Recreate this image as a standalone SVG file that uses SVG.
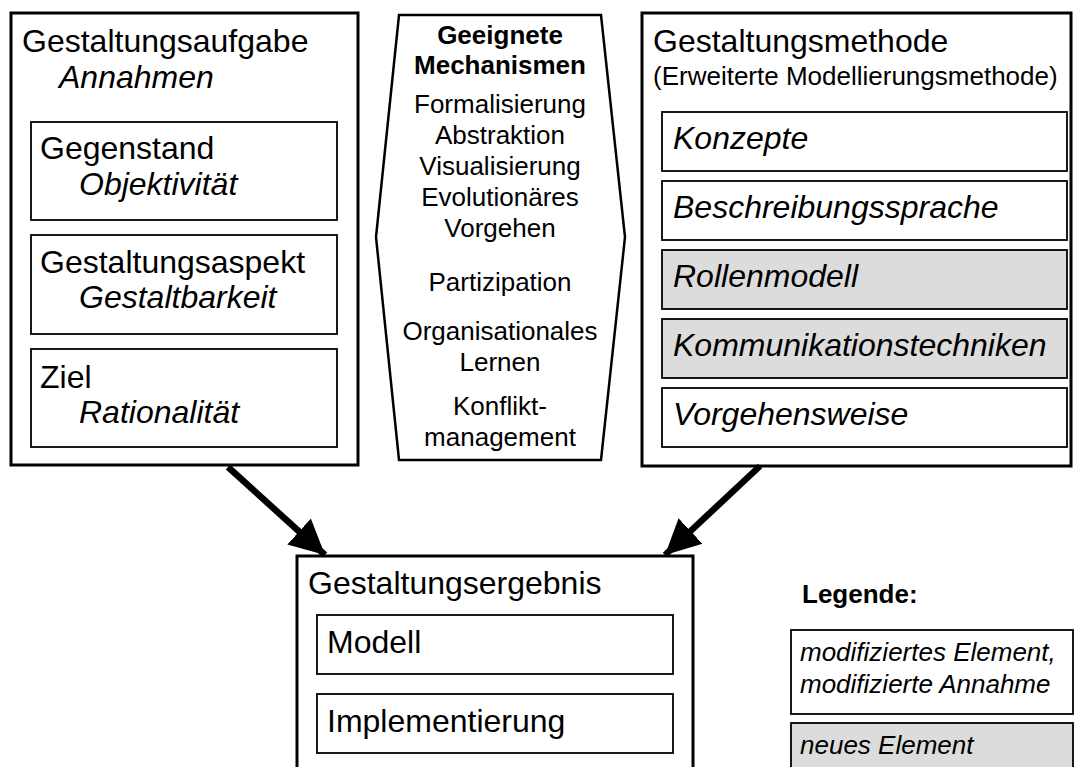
<svg xmlns="http://www.w3.org/2000/svg" width="1075" height="767" viewBox="0 0 1075 767">
  <defs>
    <style>
      .outer { fill: #ffffff; stroke: #000000; stroke-width: 3; }
      .inner { fill: #ffffff; stroke: #000000; stroke-width: 1.8; }
      .new { fill: #dcdcdc; stroke: #000000; stroke-width: 1.8; }
      .hex { fill: #ffffff; stroke: #000000; stroke-width: 2.5; stroke-linejoin: miter; }
      .t32 { font-family: "Liberation Sans", Arial, sans-serif; font-size: 32px; fill: #000000; }
      .i32 { font-family: "Liberation Sans", Arial, sans-serif; font-size: 32px; font-style: italic; fill: #000000; }
      .t26 { font-family: "Liberation Sans", Arial, sans-serif; font-size: 26px; fill: #000000; }
      .i26 { font-family: "Liberation Sans", Arial, sans-serif; font-size: 26px; font-style: italic; fill: #000000; }
      .b26 { font-family: "Liberation Sans", Arial, sans-serif; font-size: 26px; font-weight: bold; fill: #000000; }
      .mid { text-anchor: middle; }
      .conn { stroke: #000000; stroke-width: 6.5; fill: none; }
    </style>
    <marker id="head" viewBox="0 0 10 10" refX="10" refY="5" markerUnits="userSpaceOnUse" markerWidth="35" markerHeight="38" orient="auto">
      <path d="M0,0 L10,5 L0,10 z" fill="#000000"/>
    </marker>
  </defs>

  <!-- Gestaltungsaufgabe -->
  <g id="aufgabe">
    <rect class="outer" x="11" y="13" width="347" height="452"/>
    <text class="t32" x="22" y="52">Gestaltungsaufgabe</text>
    <text class="i32" x="59" y="88">Annahmen</text>
    <g id="gegenstand">
      <rect class="inner" x="31" y="122" width="306" height="98"/>
      <text class="t32" x="40" y="159">Gegenstand</text>
      <text class="i32" x="79" y="195">Objektivität</text>
    </g>
    <g id="aspekt">
      <rect class="inner" x="31" y="235" width="306" height="99"/>
      <text class="t32" x="40" y="273">Gestaltungsaspekt</text>
      <text class="i32" x="79" y="308">Gestaltbarkeit</text>
    </g>
    <g id="ziel">
      <rect class="inner" x="31" y="349" width="306" height="98"/>
      <text class="t32" x="40" y="388">Ziel</text>
      <text class="i32" x="79" y="423">Rationalität</text>
    </g>
  </g>

  <!-- Geeignete Mechanismen -->
  <g id="mechanismen">
    <polygon class="hex" points="399,15 601,15 625,237 601,460 399,460 376,237"/>
    <text class="b26 mid" x="500" y="44">Geeignete</text>
    <text class="b26 mid" x="500" y="74">Mechanismen</text>
    <text class="t26 mid" x="500" y="113">Formalisierung</text>
    <text class="t26 mid" x="500" y="144">Abstraktion</text>
    <text class="t26 mid" x="500" y="175">Visualisierung</text>
    <text class="t26 mid" x="500" y="206">Evolutionäres</text>
    <text class="t26 mid" x="500" y="237">Vorgehen</text>
    <text class="t26 mid" x="500" y="291">Partizipation</text>
    <text class="t26 mid" x="500" y="340">Organisationales</text>
    <text class="t26 mid" x="500" y="371">Lernen</text>
    <text class="t26 mid" x="500" y="415">Konflikt-</text>
    <text class="t26 mid" x="500" y="446">management</text>
  </g>

  <!-- Gestaltungsmethode -->
  <g id="methode">
    <rect class="outer" x="642" y="13" width="429" height="453"/>
    <text class="t32" x="653" y="52">Gestaltungsmethode</text>
    <text class="t26" x="653" y="85">(Erweiterte Modellierungsmethode)</text>
    <g id="konzepte">
      <rect class="inner" x="662" y="112" width="405" height="59"/>
      <text class="i32" x="673" y="149">Konzepte</text>
    </g>
    <g id="sprache">
      <rect class="inner" x="662" y="181" width="405" height="59"/>
      <text class="i32" x="673" y="218">Beschreibungssprache</text>
    </g>
    <g id="rollenmodell">
      <rect class="new" x="662" y="250" width="405" height="59"/>
      <text class="i32" x="673" y="287">Rollenmodell</text>
    </g>
    <g id="kommunikation">
      <rect class="new" x="662" y="319" width="405" height="59"/>
      <text class="i32" x="673" y="356">Kommunikationstechniken</text>
    </g>
    <g id="vorgehensweise">
      <rect class="inner" x="662" y="388" width="405" height="59"/>
      <text class="i32" x="673" y="425">Vorgehensweise</text>
    </g>
  </g>

  <!-- Gestaltungsergebnis -->
  <g id="ergebnis">
    <rect class="outer" x="297" y="556" width="396" height="240"/>
    <text class="t32" x="308" y="594">Gestaltungsergebnis</text>
    <g id="modell">
      <rect class="inner" x="317" y="615" width="356" height="59"/>
      <text class="t32" x="327" y="653">Modell</text>
    </g>
    <g id="implementierung">
      <rect class="inner" x="317" y="694" width="356" height="59"/>
      <text class="t32" x="327" y="732">Implementierung</text>
    </g>
  </g>

  <!-- Legend -->
  <g id="legende">
    <text class="b26" x="802" y="603">Legende:</text>
    <rect class="inner" x="791" y="630" width="282" height="84"/>
    <text class="i26" x="800" y="661">modifiziertes Element,</text>
    <text class="i26" x="800" y="693">modifizierte Annahme</text>
    <rect class="new" x="791" y="723" width="282" height="60"/>
    <text class="i26" x="800" y="754">neues Element</text>
  </g>

  <!-- Connectors -->
  <g id="connectors">
    <line class="conn" x1="228" y1="467" x2="325" y2="555" marker-end="url(#head)"/>
    <line class="conn" x1="760" y1="466" x2="665" y2="555" marker-end="url(#head)"/>
  </g>
</svg>
